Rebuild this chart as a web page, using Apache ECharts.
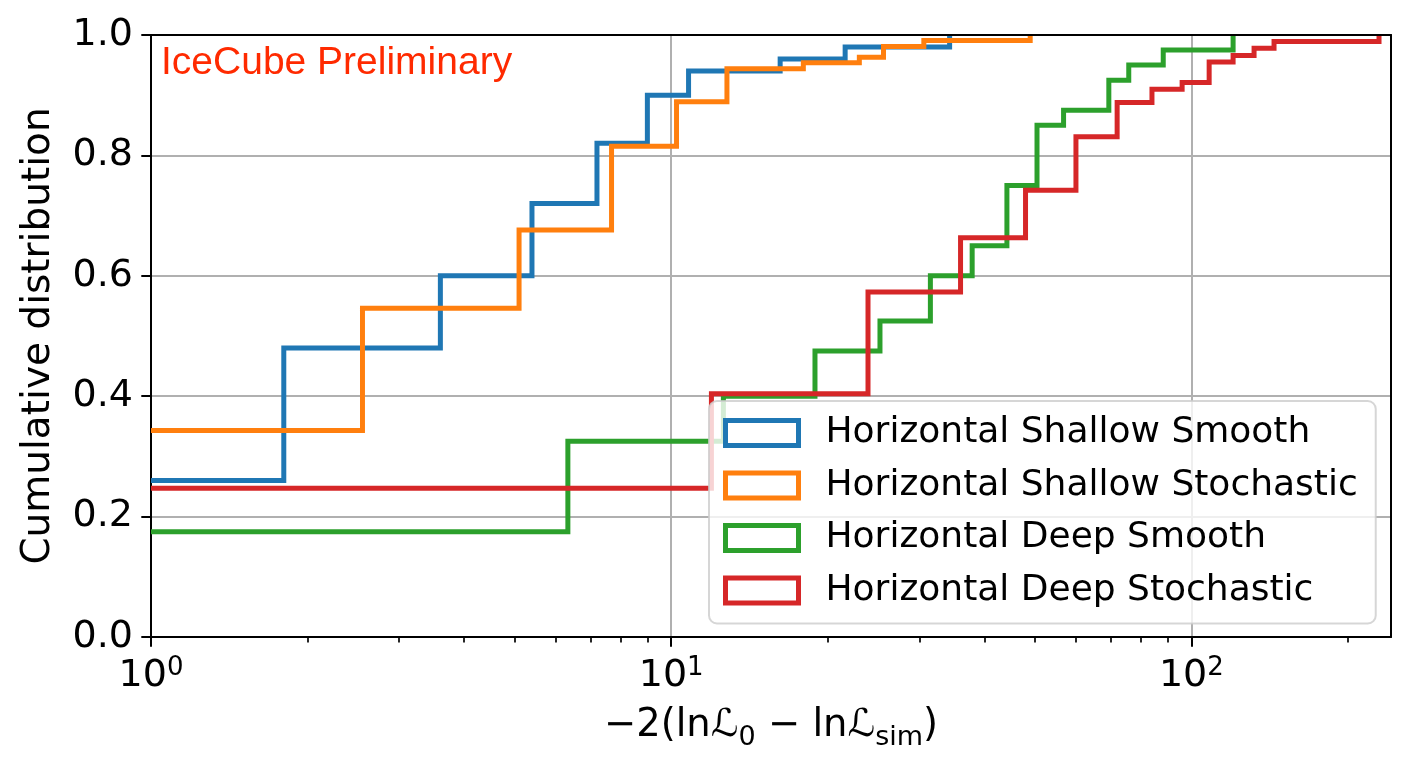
<!DOCTYPE html>
<html><head><meta charset="utf-8">
<script src="https://cdn.jsdelivr.net/npm/echarts@6/dist/echarts.min.js"></script>
<style>html,body{margin:0;padding:0;background:#fff}#c{width:1410px;height:768px}</style>
</head><body><div id="c"></div>
<script>
// ---- data ----
const seriesNames = ['Horizontal Shallow Smooth','Horizontal Shallow Stochastic','Horizontal Deep Smooth','Horizontal Deep Stochastic'];
const seriesColors = ['#1f77b4','#ff7f0e','#2ca02c','#d62728'];

// x positions where each cumulative curve steps up, and the levels (first level holds from the left edge)
const shallowSmoothEdges  = [1.8, 3.6, 5.4, 7.2, 9.0, 10.8, 16.2, 21.6, 34.3];
const shallowSmoothValues = [0.26, 0.48, 0.60, 0.72, 0.82, 0.90, 0.94, 0.96, 0.98, 1.0];

const shallowStochEdges  = [2.55, 5.1, 7.68, 10.24, 12.8, 17.95, 23.0, 25.6, 30.6, 49.0];
const shallowStochValues = [0.343, 0.546, 0.676, 0.815, 0.889, 0.944, 0.954, 0.963, 0.981, 0.991, 1.0];

const deepSmoothEdges  = [6.33, 12.6, 18.9, 25.2, 31.5, 37.9, 44.2, 50.5, 56.8, 69.4, 75.8, 88.3, 120.3];
const deepSmoothValues = [0.175, 0.325, 0.40, 0.475, 0.525, 0.60, 0.65, 0.75, 0.85, 0.875, 0.925, 0.95, 0.975, 1.0];

const deepStochEdges  = [11.95, 23.9, 36.0, 48.0, 60.0, 72.0, 84.0, 96.0, 108.2, 120.3, 132.0, 144.2, 229.5];
const deepStochValues = [0.247, 0.404, 0.573, 0.663, 0.742, 0.831, 0.888, 0.910, 0.921, 0.955, 0.966, 0.978, 0.989, 1.0];

const xMin = 1, xMax = 242;
const xMajorTicks = [1, 10, 100];
const xMinorTicks = [2,3,4,5,6,7,8,9,20,30,40,50,60,70,80,90,200];
const yMin = 0, yMax = 1, yInterval = 0.2;

const xTitleRich = '−2(ln{cal|ℒ}{sub|0} − ln{cal|ℒ}{sub|sim})';
const yTitle = 'Cumulative distribution';
const watermark = 'IceCube Preliminary';

// ---- build ----
function stepData(edges, values) {
  const d = [[xMin, values[0]]];
  edges.forEach((e, i) => d.push([e, values[i + 1]]));
  return d;
}
const allEdges = [shallowSmoothEdges, shallowStochEdges, deepSmoothEdges, deepStochEdges];
const allValues = [shallowSmoothValues, shallowStochValues, deepSmoothValues, deepStochValues];

const FONT = 'DejaVu Sans';
const frameLine = {show: true, lineStyle: {color: '#000', width: 2}};
const chart = echarts.init(document.getElementById('c'), null, {renderer: 'canvas'});
chart.setOption({
  animation: false,
  backgroundColor: '#ffffff',
  title: {
    text: watermark, left: 161, top: 44, padding: 0,
    textStyle: {fontFamily: 'Liberation Sans', fontSize: 39, fontWeight: 'normal', color: '#ff2a00'}
  },
  grid: {left: 151, top: 35, width: 1240, height: 602, show: false},
  legend: {
    orient: 'vertical', left: 709, top: 401,
    padding: [14, 18, 15, 14],
    itemWidth: 73, itemHeight: 25, itemGap: 16.5,
    backgroundColor: 'rgba(255,255,255,0.8)', borderColor: 'rgba(204,204,204,0.8)', borderWidth: 2, borderRadius: 8,
    icon: 'rect',
    textStyle: {fontFamily: FONT, fontSize: 36, color: '#000', lineHeight: 36, padding: [0, 0, 0, 22]},
    data: seriesNames.map((n, i) => ({name: n, icon: 'rect',
      itemStyle: {color: 'rgba(255,255,255,0)', borderColor: seriesColors[i], borderWidth: 5}}))
  },
  xAxis: [{
    type: 'log', logBase: 10, min: xMin, max: xMax, position: 'bottom',
    name: xTitleRich, nameLocation: 'middle', nameGap: 64, nameMoveOverlap: false,
    nameTextStyle: {fontFamily: FONT, fontSize: 38.5, color: '#000', lineHeight: 50, verticalAlign: 'top',
      rich: {
        cal: {fontFamily: FONT, fontSize: 38.5, lineHeight: 50, verticalAlign: 'middle'},
        sub: {fontFamily: FONT, fontSize: 27, lineHeight: 28, verticalAlign: 'bottom'}
      }},
    axisLine: frameLine,
    axisTick: {show: true, customValues: xMajorTicks, length: 9.7, lineStyle: {color: '#000', width: 2}},
    axisLabel: {show: true, customValues: xMajorTicks, margin: 18, color: '#000',
      fontFamily: FONT, fontSize: 38,
      formatter: v => '{b|10}{sup|' + Math.round(Math.log10(v)) + '}',
      rich: {
        b: {fontFamily: FONT, fontSize: 38, lineHeight: 42, verticalAlign: 'middle'},
        sup: {fontFamily: FONT, fontSize: 26, lineHeight: 26, verticalAlign: 'top'}
      }},
    splitLine: {show: true, lineStyle: {color: '#b0b0b0', width: 2}}
  }, {
    type: 'log', logBase: 10, min: xMin, max: xMax, position: 'bottom', gridIndex: 0,
    axisLine: {show: false}, axisLabel: {show: false}, splitLine: {show: false},
    axisTick: {show: true, customValues: xMinorTicks, length: 5.6, lineStyle: {color: '#000', width: 1.7}}
  }, {
    type: 'log', logBase: 10, min: xMin, max: xMax, position: 'top', gridIndex: 0, z: 10,
    axisLine: frameLine, axisLabel: {show: false}, axisTick: {show: false}, splitLine: {show: false}
  }],
  yAxis: [{
    type: 'value', min: yMin, max: yMax, interval: yInterval,
    name: yTitle, nameLocation: 'middle', nameGap: 93, nameMoveOverlap: false,
    nameTextStyle: {fontFamily: FONT, fontSize: 39, color: '#000', lineHeight: 39},
    axisLine: frameLine,
    axisTick: {show: true, length: 9.7, lineStyle: {color: '#000', width: 2}},
    axisLabel: {margin: 18, fontFamily: FONT, fontSize: 38, color: '#000', formatter: v => v.toFixed(1)},
    splitLine: {show: true, lineStyle: {color: '#b0b0b0', width: 2}}
  }, {
    type: 'value', min: yMin, max: yMax, position: 'right', gridIndex: 0, z: 10,
    axisLine: frameLine, axisLabel: {show: false}, axisTick: {show: false}, splitLine: {show: false}
  }],
  series: seriesNames.map((n, i) => ({
    name: n, type: 'line', step: 'end', xAxisIndex: 0, yAxisIndex: 0,
    data: stepData(allEdges[i], allValues[i]),
    showSymbol: false, symbol: 'none', clip: true,
    color: seriesColors[i],
    lineStyle: {color: seriesColors[i], width: 5, join: 'miter', cap: 'butt'},
    emphasis: {disabled: true}
  }))
});
</script></body></html>
